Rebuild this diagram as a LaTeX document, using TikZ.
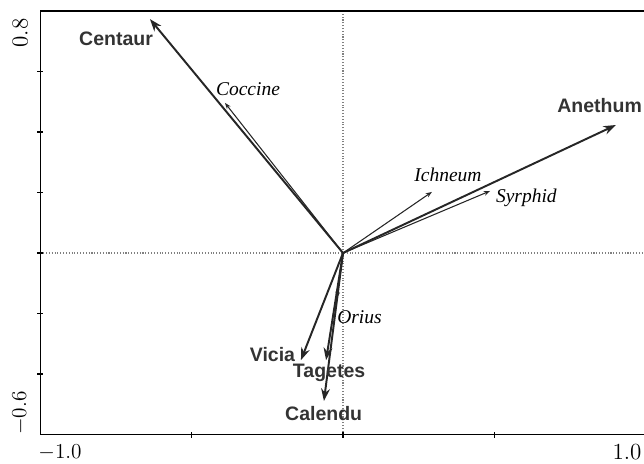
\documentclass[tikz,border=0pt]{standalone}
\usepackage{fontspec}
\newfontfamily\labelsans{Liberation Sans}
\newfontfamily\labelserif{Liberation Serif}
\usetikzlibrary{arrows.meta}
\definecolor{inkgray}{HTML}{262626}
\definecolor{textgray}{HTML}{333333}
\tikzstyle{plant arrow}=[inkgray, line width=1.1pt, -{Stealth[length=7pt,width=5pt]}]
\tikzstyle{insect arrow}=[inkgray, line width=0.6pt, -{Stealth[length=3.5pt,width=2.6pt]}]
\tikzstyle{plant label}=[textgray, inner sep=0pt, font=\labelsans\bfseries\fontsize{11}{13}\selectfont]
\tikzstyle{insect label}=[black, inner sep=0pt, font=\labelserif\itshape\fontsize{11}{13}\selectfont]
\tikzstyle{tick label}=[inner sep=0pt, font=\fontsize{13}{15}\selectfont]
\tikzstyle{zero line}=[gray, line width=0.6pt, densely dotted]

\begin{document}
\begin{tikzpicture}[x=6cm, y=6cm]
  \useasboundingbox (-1.1335,-0.694) rectangle (0.9947,0.8361);
  % zero lines
  \draw[zero line] (-1,0) -- (0.9947,0);
  \draw[zero line] (0,-0.6) -- (0,0.8);
  % frame and ticks
  \draw[line width=1pt] (-1,0.8) -- (-1,-0.6) -- (0.9947,-0.6);
  \draw[line width=1pt] (-1,0.8) -- (0.9947,0.8);
  \foreach \y in {-0.4,-0.2,0,0.2,0.4,0.6}
    \draw[line width=0.8pt] (-1.01,\y) -- (-0.99,\y);
  \foreach \x in {-0.5,0,0.5}
    \draw[line width=0.8pt] (\x,-0.61) -- (\x,-0.59);
  \node[tick label, rotate=90] (ytop) at (-1.067,0.727) {0.8};
  \node[tick label, rotate=90] (ybot) at (-1.067,-0.529) {$-0.6$};
  \node[tick label] (xleft) at (-0.935,-0.658) {$-1.0$};
  \node[tick label] (xright) at (0.9385,-0.658) {1.0};
  % origin and arrow tips
  \coordinate (O) at (0,0);
  \coordinate (centaur) at (-0.638,0.773);
  \coordinate (anethum) at (0.902,0.423);
  \coordinate (vicia) at (-0.139,-0.354);
  \coordinate (tagetes) at (-0.056,-0.354);
  \coordinate (calendu) at (-0.063,-0.489);
  \coordinate (coccine) at (-0.390,0.496);
  \coordinate (ichneum) at (0.294,0.202);
  \coordinate (syrphid) at (0.486,0.205);
  \coordinate (orius) at (-0.020,-0.149);
  % plants
  \foreach \p in {centaur,anethum,vicia,tagetes,calendu}
    \draw[plant arrow] (O) -- (\p);
  % insects
  \foreach \i in {coccine,ichneum,syrphid,orius}
    \draw[insect arrow] (O) -- (\i);
  % labels
  \node[plant label] (centaurtxt) at (-0.750,0.707) {Centaur};
  \node[plant label] (anethumtxt) at (0.848,0.486) {Anethum};
  \node[plant label] (viciatxt) at (-0.233,-0.337) {Vicia};
  \node[plant label] (tagetestxt) at (-0.046,-0.397) {Tagetes};
  \node[plant label] (calendutxt) at (-0.064,-0.529) {Calendu};
  \node[insect label] (coccinetxt) at (-0.314,0.542) {Coccine};
  \node[insect label] (ichneumtxt) at (0.347,0.258) {Ichneum};
  \node[insect label] (syrphidtxt) at (0.606,0.182) {Syrphid};
  \node[insect label] (oriustxt) at (0.0545,-0.2115) {Orius};
\end{tikzpicture}
\end{document}
